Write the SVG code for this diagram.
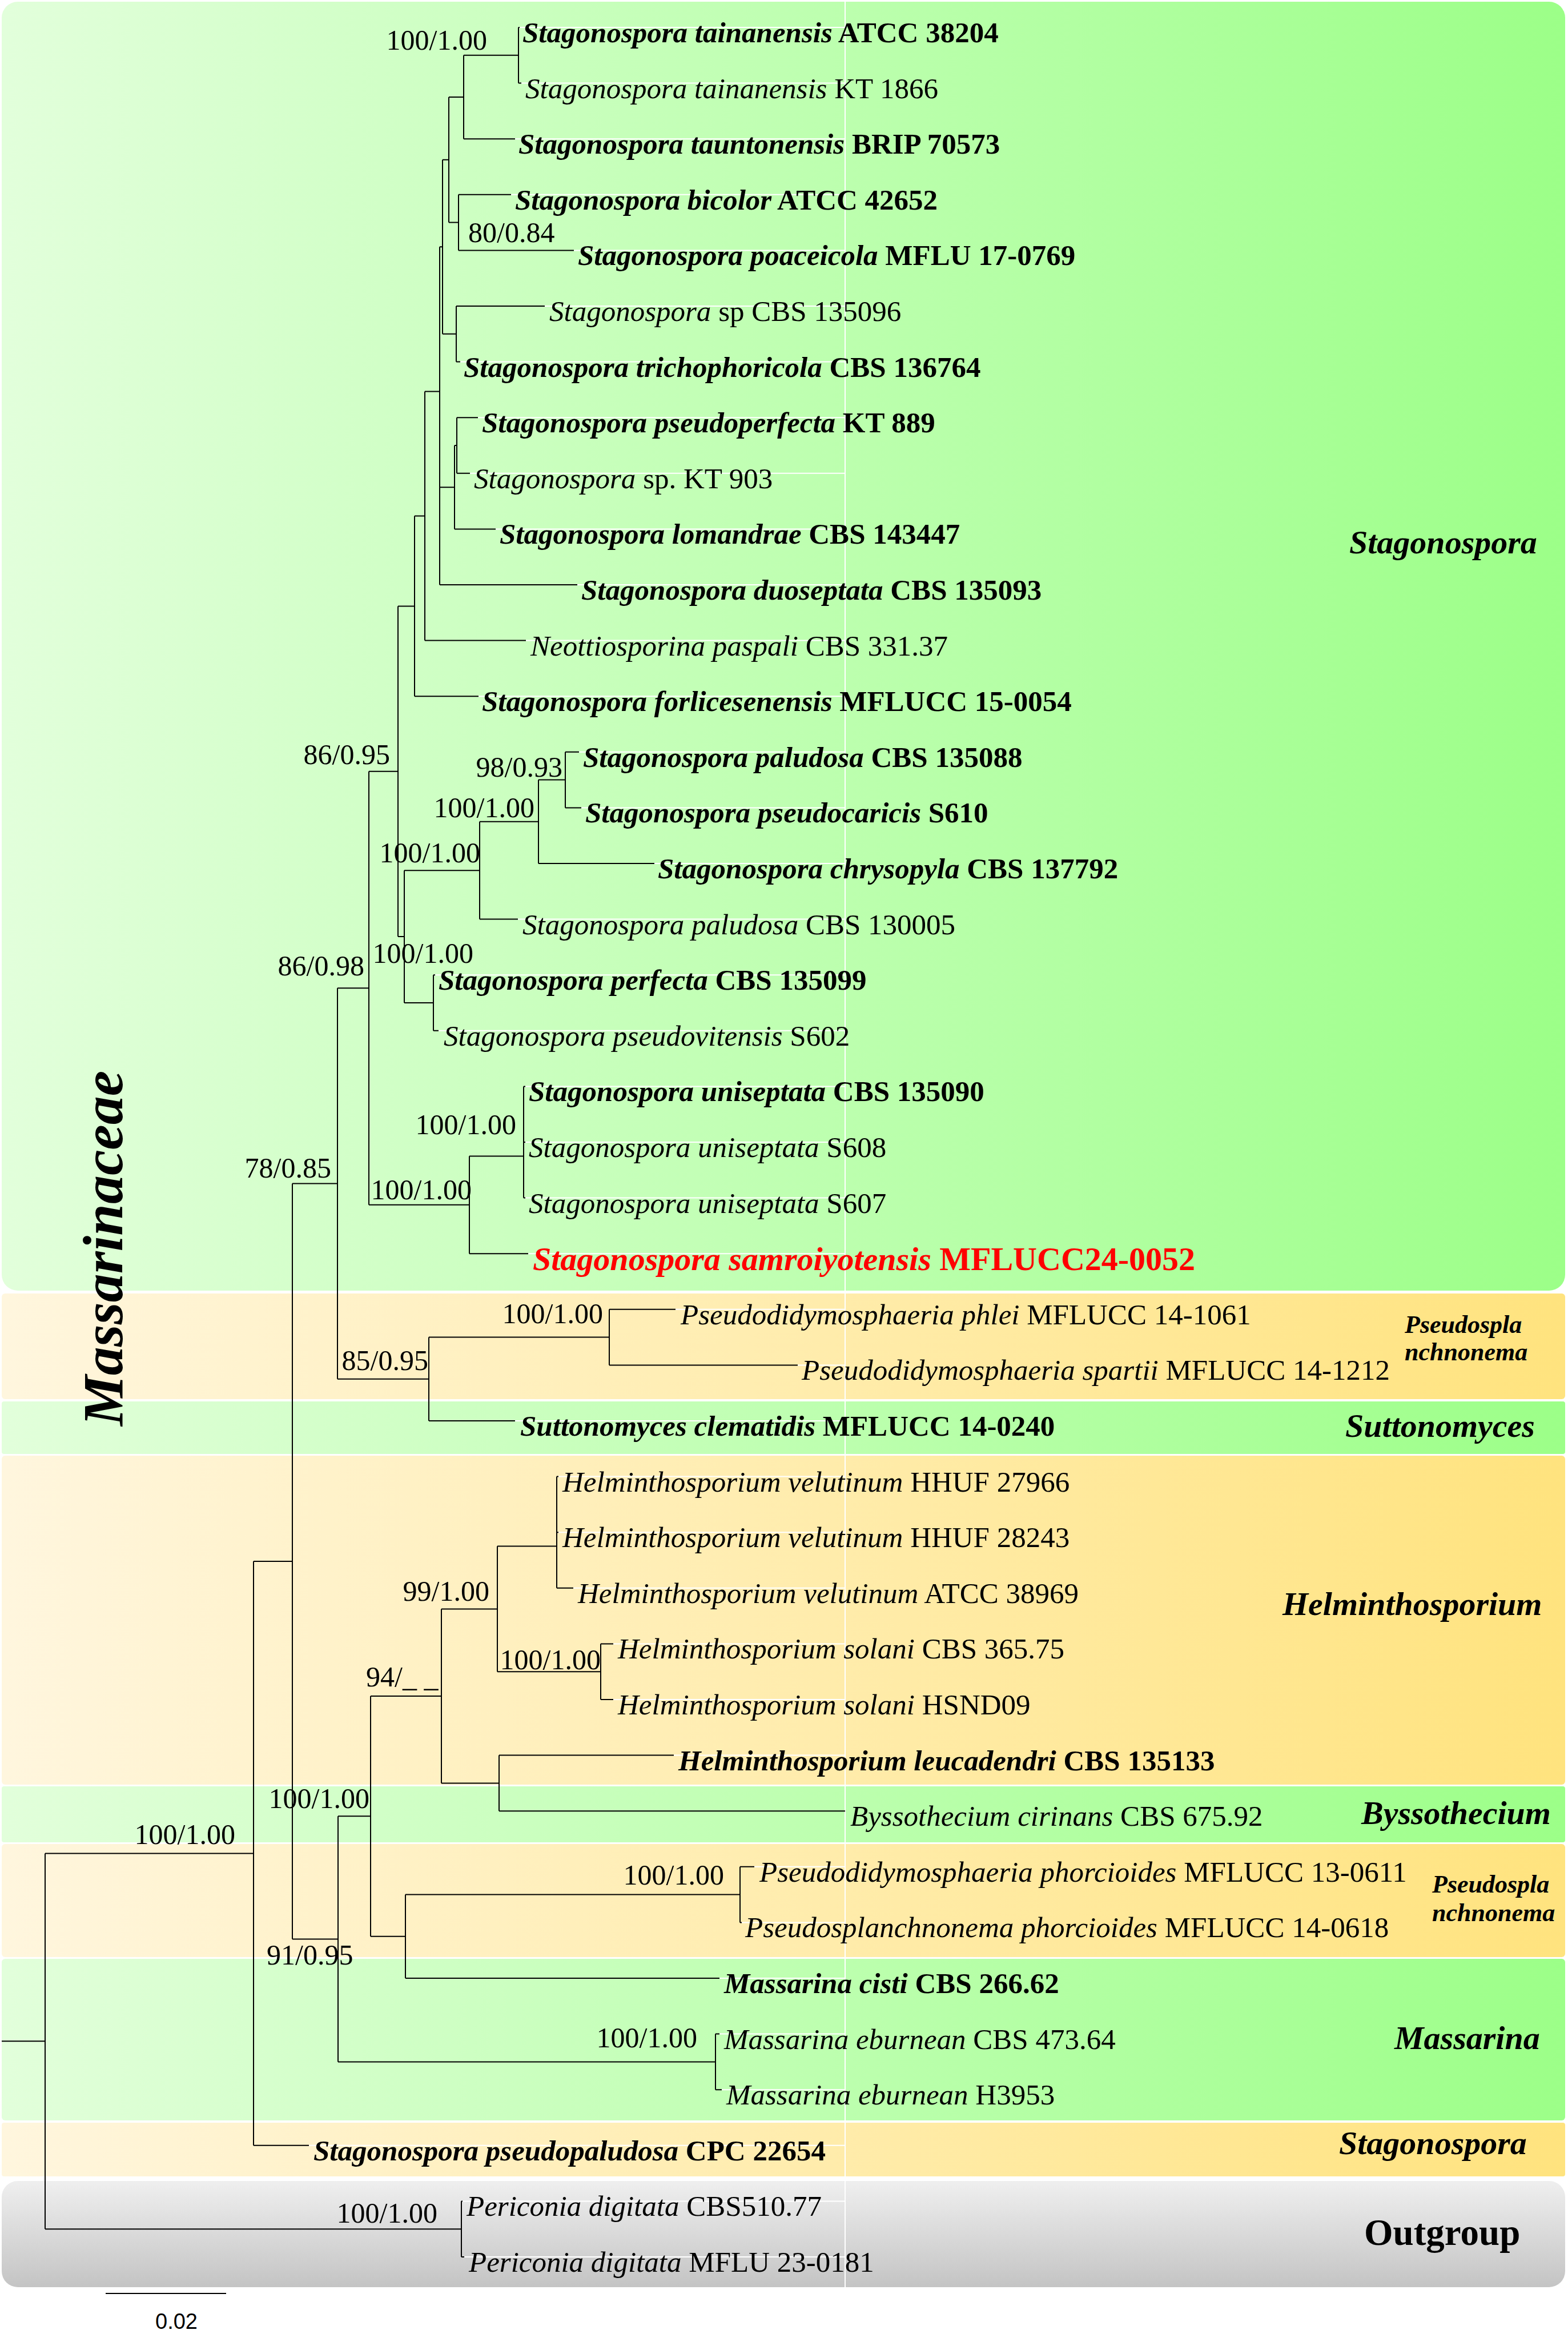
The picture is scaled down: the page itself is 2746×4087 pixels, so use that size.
<svg xmlns="http://www.w3.org/2000/svg" width="2746" height="4087" viewBox="0 0 2746 4087">
<defs>
<linearGradient id="gG" x1="0" y1="0" x2="1" y2="0"><stop offset="0" stop-color="#e2ffdb"/><stop offset="1" stop-color="#9cff88"/></linearGradient>
<linearGradient id="gO" x1="0" y1="0" x2="1" y2="0"><stop offset="0" stop-color="#fff6de"/><stop offset="1" stop-color="#ffe37e"/></linearGradient>
<linearGradient id="gY" x1="0" y1="0" x2="0" y2="1"><stop offset="0" stop-color="#efefef"/><stop offset="1" stop-color="#c4c4c4"/></linearGradient>
<style>
.br{stroke:#000;stroke-width:2;fill:none}
.wl{stroke:#fff;stroke-width:2;fill:none}
text{font-family:"Liberation Serif","Times New Roman",serif;fill:#000}
.lf{font-size:51px}
.b{font-weight:bold}
.i{font-style:italic}
.sup{font-size:50px}
.grp{font-size:58px;font-weight:bold;font-style:italic}
.grs{font-size:44px;font-weight:bold;font-style:italic}
.red{fill:#ff0000;font-size:58px}
</style>
</defs>
<rect width="2746" height="4087" fill="#fff"/>
<g id="bands">
<rect x="3" y="3" width="2738" height="2257" rx="28" fill="url(#gG)"/>
<rect x="3" y="2265" width="2738" height="185" rx="6" fill="url(#gO)"/>
<rect x="3" y="2454" width="2738" height="92" rx="4" fill="url(#gG)"/>
<rect x="3" y="2549" width="2738" height="576" rx="6" fill="url(#gO)"/>
<rect x="3" y="3128" width="2738" height="98" rx="4" fill="url(#gG)"/>
<rect x="3" y="3229" width="2738" height="198" rx="6" fill="url(#gO)"/>
<rect x="3" y="3430" width="2738" height="283" rx="6" fill="url(#gG)"/>
<rect x="3" y="3717" width="2738" height="94" rx="4" fill="url(#gO)"/>
<rect x="3" y="3819" width="2738" height="186" rx="28" fill="url(#gY)"/>
</g>
<g id="guides">
<path class="wl" d="M1480 0V4005M910 48H1480M913 145.6H1480M902 243.2H1480M895 340.8H1480M1005 438.4H1480M954 536H1480M806 633.6H1480M837 731.2H1480M823 828.8H1480M868 926.4H1480M1011 1024H1480M921 1121.6H1480M838 1219.2H1480M1014 1316.8H1480M1018 1414.4H1480M1146 1512H1480M907 1609.6H1480M762 1707.2H1480M768 1804.8H1480M920 1902.4H1480M920 2000H1480M920 2097.6H1480M925 2195.2H1480M1183 2292.8H1480M1397 2390.4H1480M902 2488H1480M978 2585.6H1480M978 2683.2H1480M1004 2780.8H1480M1074 2878.4H1480M1074 2976H1480M1180 3073.6H1480M1321 3268.8H1480M1299 3366.4H1480M1260 3464H1480M1260 3561.6H1480M1264 3659.2H1480M541 3756.8H1480M810 3854.4H1480M813 3952H1480"/>
</g>
<g id="connectors">
<path class="br" d="M908 48V145.6M812 96.8V243.2M803 340.8V438.4M786 170V389.6M799 536V633.6M775 279.8V584.8M800 731.2V828.8M796 780V926.4M770 853.2V1024M770 432.3V938.6M744 685.5V1121.6M726 903.5V1219.2M990 1316.8V1414.4M943 1365.6V1512M840 1438.8V1609.6M759 1707.2V1804.8M708 1524.2V1756M697 1061.4V1640.1M917 1902.4V2097.6M822 2024.4V2195.2M646 1350.8V2109.8M1067 2292.8V2390.4M751 2341.6V2488M591 1730.3V2414.8M975 2585.6V2780.8M1052 2878.4V2976M871 2707.6V2927.2M874 3073.6V3171.2M773 2817.4V3122.4M1296 3268.8V3366.4M710 3317.6V3464M649 2969.9V3390.8M1253 3561.6V3659.2M592 3180.35V3610.4M512 2072.6V3395.4M444 2734V3756.8M808 3854.4V3952M79 3245.4V3903.2"/>
<path class="br" d="M812 96.8H908M786 170H812M786 389.6H803M775 279.8H786M775 584.8H799M770 432.3H775M796 780H800M770 853.2H796M744 685.5H770M726 903.5H744M697 1061.4H726M943 1365.6H990M840 1438.8H943M708 1524.2H840M708 1756H759M697 1640.1H708M646 1350.8H697M822 2024.4H917M646 2109.8H822M591 1730.3H646M751 2341.6H1067M591 2414.8H751M512 2072.6H591M871 2707.6H975M871 2927.2H1052M773 2817.4H871M773 3122.4H874M649 2969.9H773M710 3317.6H1296M649 3390.8H710M592 3180.35H649M592 3610.4H1253M512 3395.4H592M444 2734H512M79 3245.4H444M79 3903.2H808M3 3574.3H79"/>
<path class="br" d="M908 48H910M908 145.6H913M812 243.2H902M803 340.8H895M803 438.4H1005M799 536H954M799 633.6H806M800 731.2H837M800 828.8H823M796 926.4H868M770 1024H1011M744 1121.6H921M726 1219.2H838M990 1316.8H1014M990 1414.4H1018M943 1512H1146M840 1609.6H907M759 1707.2H762M759 1804.8H768M917 1902.4H920M917 2000H920M917 2097.6H920M822 2195.2H925M1067 2292.8H1183M1067 2390.4H1397M751 2488H902M975 2585.6H978M975 2683.2H978M975 2780.8H1004M1052 2878.4H1074M1052 2976H1074M874 3073.6H1180M874 3171.2H1480M1296 3268.8H1321M1296 3366.4H1299M710 3464H1260M1253 3561.6H1260M1253 3659.2H1264M444 3756.8H541M808 3854.4H810M808 3952H813"/>
<path class="br" d="M185 4016H396"/>
</g>
<g id="support">
<text class="sup" x="853" y="87" text-anchor="end">100/1.00</text>
<text class="sup" x="820" y="424">80/0.84</text>
<text class="sup" x="683" y="1338" text-anchor="end">86/0.95</text>
<text class="sup" x="985" y="1360" text-anchor="end">98/0.93</text>
<text class="sup" x="936" y="1431" text-anchor="end">100/1.00</text>
<text class="sup" x="841" y="1510" text-anchor="end">100/1.00</text>
<text class="sup" x="638" y="1708" text-anchor="end">86/0.98</text>
<text class="sup" x="829" y="1686" text-anchor="end">100/1.00</text>
<text class="sup" x="904" y="1986" text-anchor="end">100/1.00</text>
<text class="sup" x="580" y="2062" text-anchor="end">78/0.85</text>
<text class="sup" x="826" y="2100" text-anchor="end">100/1.00</text>
<text class="sup" x="1056" y="2317" text-anchor="end">100/1.00</text>
<text class="sup" x="750" y="2399" text-anchor="end">85/0.95</text>
<text class="sup" x="857" y="2803" text-anchor="end">99/1.00</text>
<text class="sup" x="1052" y="2923" text-anchor="end">100/1.00</text>
<text class="sup" x="641" y="2953">94/_ _</text>
<text class="sup" x="647" y="3166" text-anchor="end">100/1.00</text>
<text class="sup" x="412" y="3229" text-anchor="end">100/1.00</text>
<text class="sup" x="1268" y="3300" text-anchor="end">100/1.00</text>
<text class="sup" x="467" y="3440">91/0.95</text>
<text class="sup" x="1221" y="3585" text-anchor="end">100/1.00</text>
<text class="sup" x="766" y="3892" text-anchor="end">100/1.00</text>
</g>
<g id="leaf00"><text class="lf b" x="915" y="74"><tspan class="i">Stagonospora tainanensis</tspan> ATCC 38204</text></g>
<g id="leaf01"><text class="lf" x="920" y="171.6"><tspan class="i">Stagonospora tainanensis</tspan> KT 1866</text></g>
<g id="leaf02"><text class="lf b" x="908" y="269.2"><tspan class="i">Stagonospora tauntonensis</tspan> BRIP 70573</text></g>
<g id="leaf03"><text class="lf b" x="902" y="366.8"><tspan class="i">Stagonospora bicolor</tspan> ATCC 42652</text></g>
<g id="leaf04"><text class="lf b" x="1012" y="464.4"><tspan class="i">Stagonospora poaceicola</tspan> MFLU 17-0769</text></g>
<g id="leaf05"><text class="lf" x="962" y="562"><tspan class="i">Stagonospora</tspan> sp CBS 135096</text></g>
<g id="leaf06"><text class="lf b" x="812" y="659.6"><tspan class="i">Stagonospora trichophoricola</tspan> CBS 136764</text></g>
<g id="leaf07"><text class="lf b" x="844" y="757.2"><tspan class="i">Stagonospora pseudoperfecta</tspan> KT 889</text></g>
<g id="leaf08"><text class="lf" x="830" y="854.8"><tspan class="i">Stagonospora</tspan> sp. KT 903</text></g>
<g id="leaf09"><text class="lf b" x="875" y="952.4"><tspan class="i">Stagonospora lomandrae</tspan> CBS 143447</text></g>
<g id="leaf10"><text class="lf b" x="1018" y="1050"><tspan class="i">Stagonospora duoseptata</tspan> CBS 135093</text></g>
<g id="leaf11"><text class="lf" x="929" y="1147.6"><tspan class="i">Neottiosporina paspali</tspan> CBS 331.37</text></g>
<g id="leaf12"><text class="lf b" x="844" y="1245.2"><tspan class="i">Stagonospora forlicesenensis</tspan> MFLUCC 15-0054</text></g>
<g id="leaf13"><text class="lf b" x="1021" y="1342.8"><tspan class="i">Stagonospora paludosa</tspan> CBS 135088</text></g>
<g id="leaf14"><text class="lf b" x="1025" y="1440.4"><tspan class="i">Stagonospora pseudocaricis</tspan> S610</text></g>
<g id="leaf15"><text class="lf b" x="1152" y="1538"><tspan class="i">Stagonospora chrysopyla</tspan> CBS 137792</text></g>
<g id="leaf16"><text class="lf" x="915" y="1635.6"><tspan class="i">Stagonospora paludosa</tspan> CBS 130005</text></g>
<g id="leaf17"><text class="lf b" x="768" y="1733.2"><tspan class="i">Stagonospora perfecta</tspan> CBS 135099</text></g>
<g id="leaf18"><text class="lf" x="777" y="1830.8"><tspan class="i">Stagonospora pseudovitensis</tspan> S602</text></g>
<g id="leaf19"><text class="lf b" x="926" y="1928.4"><tspan class="i">Stagonospora uniseptata</tspan> CBS 135090</text></g>
<g id="leaf20"><text class="lf" x="926" y="2026"><tspan class="i">Stagonospora uniseptata</tspan> S608</text></g>
<g id="leaf21"><text class="lf" x="926" y="2123.6"><tspan class="i">Stagonospora uniseptata</tspan> S607</text></g>
<g id="leaf22"><text class="b red" x="933" y="2224"><tspan class="i">Stagonospora samroiyotensis</tspan> MFLUCC24-0052</text></g>
<g id="leaf23"><text class="lf" x="1192" y="2318.8"><tspan class="i">Pseudodidymosphaeria phlei</tspan> MFLUCC 14-1061</text></g>
<g id="leaf24"><text class="lf" x="1404" y="2416.4"><tspan class="i">Pseudodidymosphaeria spartii</tspan> MFLUCC 14-1212</text></g>
<g id="leaf25"><text class="lf b" x="911" y="2514"><tspan class="i">Suttonomyces clematidis</tspan> MFLUCC 14-0240</text></g>
<g id="leaf26"><text class="lf" x="985" y="2611.6"><tspan class="i">Helminthosporium velutinum</tspan> HHUF 27966</text></g>
<g id="leaf27"><text class="lf" x="985" y="2709.2"><tspan class="i">Helminthosporium velutinum</tspan> HHUF 28243</text></g>
<g id="leaf28"><text class="lf" x="1012" y="2806.8"><tspan class="i">Helminthosporium velutinum</tspan> ATCC 38969</text></g>
<g id="leaf29"><text class="lf" x="1082" y="2904.4"><tspan class="i">Helminthosporium solani</tspan> CBS 365.75</text></g>
<g id="leaf30"><text class="lf" x="1082" y="3002"><tspan class="i">Helminthosporium solani</tspan> HSND09</text></g>
<g id="leaf31"><text class="lf b" x="1188" y="3099.6"><tspan class="i">Helminthosporium leucadendri</tspan> CBS 135133</text></g>
<g id="leaf32"><text class="lf" x="1489" y="3197.2"><tspan class="i">Byssothecium cirinans</tspan> CBS 675.92</text></g>
<g id="leaf33"><text class="lf" x="1330" y="3294.8"><tspan class="i">Pseudodidymosphaeria phorcioides</tspan> MFLUCC 13-0611</text></g>
<g id="leaf34"><text class="lf" x="1305" y="3392.4"><tspan class="i">Pseudosplanchnonema phorcioides</tspan> MFLUCC 14-0618</text></g>
<g id="leaf35"><text class="lf b" x="1268" y="3490"><tspan class="i">Massarina cisti</tspan> CBS 266.62</text></g>
<g id="leaf36"><text class="lf" x="1268" y="3587.6"><tspan class="i">Massarina eburnean</tspan> CBS 473.64</text></g>
<g id="leaf37"><text class="lf" x="1272" y="3685.2"><tspan class="i">Massarina eburnean</tspan> H3953</text></g>
<g id="leaf38"><text class="lf b" x="549" y="3782.8"><tspan class="i">Stagonospora pseudopaludosa</tspan> CPC 22654</text></g>
<g id="leaf39"><text class="lf" x="817" y="3880.4"><tspan class="i">Periconia digitata</tspan> CBS510.77</text></g>
<g id="leaf40"><text class="lf" x="821" y="3978"><tspan class="i">Periconia digitata</tspan> MFLU 23-0181</text></g>
<g id="groups">
<text class="grp" x="2363" y="969">Stagonospora</text>
<text class="grs" x="2460" y="2334">Pseudospla</text>
<text class="grs" x="2460" y="2382">nchnonema</text>
<text class="grp" x="2356" y="2516">Suttonomyces</text>
<text class="grp" x="2246" y="2828">Helminthosporium</text>
<text class="grp" x="2384" y="3194">Byssothecium</text>
<text class="grs" x="2508" y="3314">Pseudospla</text>
<text class="grs" x="2508" y="3364">nchnonema</text>
<text class="grp" x="2442" y="3588">Massarina</text>
<text class="grp" x="2345" y="3772">Stagonospora</text>
<text x="2389" y="3931" style="font-size:65px;font-weight:bold">Outgroup</text>
<text x="214" y="2186" text-anchor="middle" transform="rotate(-90 214 2186)" style="font-size:100px;font-weight:bold;font-style:italic">Massarinaceae</text>
</g>
<g id="scale">
<text x="309" y="4078" text-anchor="middle" style="font-family:'Liberation Sans',Arial,sans-serif;font-size:38px">0.02</text>
</g>
</svg>
